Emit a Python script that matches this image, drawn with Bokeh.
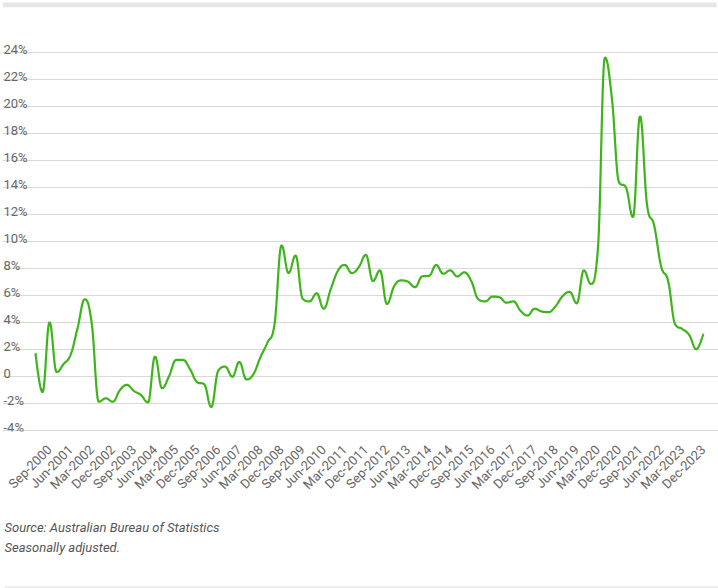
import math
import numpy as np
from bokeh.plotting import figure
from bokeh.layouts import column
from bokeh.models import Range1d, FixedTicker, BoxAnnotation, ColumnDataSource
from bokeh.core.properties import value
from bokeh.embed import file_html
from bokeh.resources import INLINE

# ---------------- data ----------------
months = ["Mar", "Jun", "Sep", "Dec"]
quarters = [f"{m}-{y}" for y in range(2000, 2024) for m in months]  # Mar-2000 .. Dec-2023

saving_ratio = [
    1.7, -1.2, 4.0, 0.3, 0.9, 1.6, 3.6, 5.7, 3.9, -1.9,
    -1.65, -1.9, -1.05, -0.65, -1.1, -1.4, -1.95, 1.45, -0.9, 0.0,
    1.2, 1.2, 0.5, -0.45, -0.6, -2.3, 0.4, 0.7, -0.05, 1.05,
    -0.25, 0.15, 1.4, 2.5, 3.85, 9.7, 7.65, 8.95, 5.75, 5.55,
    6.15, 5.0, 6.45, 7.8, 8.25, 7.65, 8.1, 9.0, 7.05, 7.85,
    5.35, 6.65, 7.1, 7.0, 6.6, 7.4, 7.45, 8.25, 7.6, 7.85,
    7.4, 7.7, 7.05, 5.7, 5.55, 5.9, 5.85, 5.45, 5.55, 4.85,
    4.5, 5.0, 4.8, 4.75, 5.2, 5.95, 6.25, 5.4, 7.85, 6.85,
    9.4, 23.65, 20.6, 14.4, 14.0, 11.8, 19.3, 12.7, 11.2, 8.15,
    7.05, 3.85, 3.5, 3.05, 2.0, 3.15,
]

tick_labels = [
    "Sep-2000", "Jun-2001", "Mar-2002", "Dec-2002", "Sep-2003", "Jun-2004",
    "Mar-2005", "Dec-2005", "Sep-2006", "Jun-2007", "Mar-2008", "Dec-2008",
    "Sep-2009", "Jun-2010", "Mar-2011", "Dec-2011", "Sep-2012", "Jun-2013",
    "Mar-2014", "Dec-2014", "Sep-2015", "Jun-2016", "Mar-2017", "Dec-2017",
    "Sep-2018", "Jun-2019", "Mar-2020", "Dec-2020", "Sep-2021", "Jun-2022",
    "Mar-2023", "Dec-2023",
]

y_ticks = [-4, -2, 0, 2, 4, 6, 8, 10, 12, 14, 16, 18, 20, 22, 24]
y_tick_labels = ["-4%", "-2%", "0", "2%", "4%", "6%", "8%", "10%", "12%",
                 "14%", "16%", "18%", "20%", "22%", "24%"]

source_note = "Source: Australian Bureau of Statistics"
adjust_note = "Seasonally adjusted."

# ---------------- spline (Highcharts-style smoothing) ----------------
def spline(xs, ys, steps=16):
    n = len(xs)
    lc = [None] * n
    rc = [None] * n
    s, d = 1.5, 2.5
    for i in range(1, n - 1):
        px, py = xs[i], ys[i]
        lx, ly = xs[i - 1], ys[i - 1]
        nx, ny = xs[i + 1], ys[i + 1]
        lcx = (s * px + lx) / d
        lcy = (s * py + ly) / d
        rcx = (s * px + nx) / d
        rcy = (s * py + ny) / d
        corr = 0.0
        if rcx != lcx:
            corr = (rcy - lcy) * (rcx - px) / (rcx - lcx) + py - rcy
        lcy += corr
        rcy += corr
        if lcy > ly and lcy > py:
            lcy = max(ly, py); rcy = 2 * py - lcy
        elif lcy < ly and lcy < py:
            lcy = min(ly, py); rcy = 2 * py - lcy
        if rcy > ny and rcy > py:
            rcy = max(ny, py); lcy = 2 * py - rcy
        elif rcy < ny and rcy < py:
            rcy = min(ny, py); lcy = 2 * py - rcy
        lc[i] = (lcx, lcy)
        rc[i] = (rcx, rcy)
    outx, outy = [xs[0]], [ys[0]]
    t = np.linspace(0, 1, steps + 1)[1:]
    for i in range(1, n):
        p0 = (xs[i - 1], ys[i - 1])
        c1 = rc[i - 1] if rc[i - 1] else p0
        p3 = (xs[i], ys[i])
        c2 = lc[i] if lc[i] else p3
        bx = (1 - t) ** 3 * p0[0] + 3 * (1 - t) ** 2 * t * c1[0] + 3 * (1 - t) * t ** 2 * c2[0] + t ** 3 * p3[0]
        by = (1 - t) ** 3 * p0[1] + 3 * (1 - t) ** 2 * t * c1[1] + 3 * (1 - t) * t ** 2 * c2[1] + t ** 3 * p3[1]
        outx.extend(bx.tolist())
        outy.extend(by.tolist())
    return outx, outy

x_idx = list(range(len(quarters)))
sx, sy = spline(x_idx, saving_ratio)

# ---------------- layout geometry ----------------
PX_X = 667.8 / 95.0          # px per quarter
PX_Y = 379.0 / 28.0          # px per percentage point
X0 = -33.0 / PX_X            # frame left edge (canvas x = 2)
X_GRID_END = 95 + 3.2 / PX_X # grid lines end (canvas x ~ 706)
X1 = 95 + 15.2 / PX_X        # frame right edge (canvas x = 718)
Y_TOP = 24 + 52.5 / PX_Y     # frame top = canvas top
Y_BOT = -4 - 1.5 / PX_Y      # frame bottom ~ canvas y 433

p = figure(width=718, height=500, output_backend="svg", toolbar_location=None,
           x_range=Range1d(X0, X1), y_range=Range1d(Y_BOT, Y_TOP),
           min_border_left=2, min_border_right=0, min_border_top=0, min_border_bottom=67)
p.outline_line_color = None
p.background_fill_color = "white"
p.border_fill_color = "white"

p.yaxis.visible = False
p.xgrid.visible = False
p.ygrid.ticker = FixedTicker(ticks=y_ticks)
p.ygrid.grid_line_color = "#d9d9d9"
p.ygrid.grid_line_width = 1
p.ygrid.bounds = (X0, X_GRID_END)

tick_pos = [quarters.index(q) for q in tick_labels]
ax = p.xaxis[0]
ax.ticker = FixedTicker(ticks=tick_pos)
ax.major_label_overrides = {pos: lab for pos, lab in zip(tick_pos, tick_labels)}
ax.major_label_orientation = math.pi / 4
ax.axis_line_color = None
ax.major_tick_line_color = None
ax.minor_tick_line_color = None
ax.major_label_text_font = "Roboto"
ax.major_label_text_font_size = "13px"
ax.major_label_text_color = "#666666"
ax.major_label_standoff = 10

# y labels above gridlines, inside plot
ysrc = ColumnDataSource(dict(x=[X0] * len(y_ticks), y=y_ticks, t=y_tick_labels))
p.text(x="x", y="y", text="t", source=ysrc, text_font=value("Roboto"),
       text_font_size="13px", text_color="#666666", text_align="left",
       text_baseline="alphabetic", y_offset=-3, x_offset=1)

# series line
p.line(sx, sy, line_color="#3db51a", line_width=2.2)

# top decorative bar
p.add_layout(BoxAnnotation(left=X0, right=X1 - 2 / PX_X, top=Y_TOP - 2 / PX_Y,
                           bottom=Y_TOP - 6.7 / PX_Y, fill_color="#e6e6e6",
                           fill_alpha=1, line_color=None))

# ---------------- footer ----------------
f = figure(width=718, height=88, output_backend="svg", toolbar_location=None,
           x_range=Range1d(0, 718), y_range=Range1d(88, 0),
           min_border_left=0, min_border_right=0, min_border_top=0, min_border_bottom=0)
f.axis.visible = False
f.grid.visible = False
f.outline_line_color = None
f.border_fill_color = "white"
fsrc = ColumnDataSource(dict(x=[2, 2], y=[26.7, 46.7], t=[source_note, adjust_note]))
f.text(x="x", y="y", text="t", source=fsrc, text_font=value("Roboto"),
       text_font_size="13px", text_font_style="italic", text_color="#555555",
       text_align="left", text_baseline="middle")
f.segment(x0=[2], y0=[86.5], x1=[718], y1=[86.5], line_color="#dddddd", line_width=1)

layout = column(p, f, spacing=0)
open("out.html", "w").write(file_html(layout, INLINE))
